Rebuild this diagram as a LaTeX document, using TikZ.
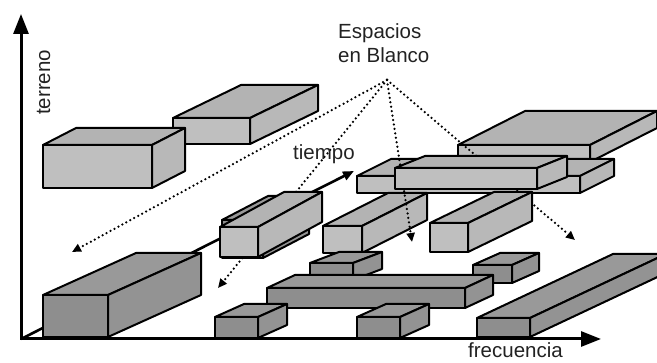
\documentclass[tikz,border=0pt]{standalone}
\usepackage{fontspec}
\setmainfont{Liberation Sans}
\usetikzlibrary{arrows.meta}

\definecolor{lightfront}{HTML}{BFBFBF}
\definecolor{lighttop}{HTML}{B3B3B3}
\definecolor{lightside}{HTML}{B8B8B8}
\definecolor{darkfront}{HTML}{8E8E8E}
\definecolor{darktop}{HTML}{999999}
\definecolor{darkside}{HTML}{939393}
\definecolor{inkgray}{HTML}{222222}

\tikzset{
  boxedge/.style={draw=black, line width=2pt, line join=round},
  axisline/.style={line width=3pt, line cap=rect, -{Triangle[length=20pt,width=15pt]}},
  timeline/.style={line width=2.6pt, -{Triangle[length=11pt,width=9pt]}},
  gapline/.style={line width=2.5pt, line cap=round, dash pattern=on 0pt off 4.5pt, -{Triangle[length=9pt,width=8pt]}},
  lbl/.style={font=\fontsize{20.5}{24}\selectfont, text=inkgray, inner sep=0pt}
}

% one block: tone, front face corners, depth offset
\newcommand{\cuboid}[7]{%
  \filldraw[boxedge, fill=#1front] (#2,#3) rectangle (#4,#5);
  \filldraw[boxedge, fill=#1top] (#2,#3) -- ++(#6,#7) -- ++({#4-#2},0) -- (#4,#3) -- cycle;
  \filldraw[boxedge, fill=#1side] (#4,#3) -- ++(#6,#7) -- ++(0,{#5-#3}) -- (#4,#5) -- cycle;
}

\begin{document}
\begin{tikzpicture}[x=1pt, y=-1pt]
  \useasboundingbox (0,0) rectangle (657,363);

  % Axis points
  \coordinate (orig) at (21,339);
  \coordinate (yend) at (21,14);
  \coordinate (xend) at (601,339);
  \coordinate (tend) at (354,171);

  % Time axis runs under the blocks
  \draw[timeline] (orig) -- (tend);

  % Blocks behind the pointers
  \foreach \tone/\xa/\ya/\xb/\yb/\dx/\dy in {
    light/458/145/590/162/67/-34,
    light/173/118/250/144/68/-33,
    light/43/145/152/188/33/-17,
    light/357/176/580/193/34/-17,
    light/323/226/362/253/65/-33
  }{
    \cuboid{\tone}{\xa}{\ya}{\xb}{\yb}{\dx}{\dy}
  }

  % Pointers to the blank spaces
  \coordinate (spc) at (387,80);
  \coordinate (gap1) at (72,252);
  \coordinate (gap2) at (218,288);
  \coordinate (gap3) at (412,242);
  \coordinate (gap4) at (575,240);
  \foreach \g in {1,...,4}
    \draw[gapline] (spc) -- (gap\g);

  % Blocks in front
  \foreach \tone/\xa/\ya/\xb/\yb/\dx/\dy in {
    light/395/168/537/189/30/-12,
    dark/222/220/263/258/46/-24,
    light/220/227/258/257/64/-35,
    light/430/223/468/252/64/-31,
    dark/310/263/353/280/29/-11,
    dark/473/265/512/283/27/-12,
    dark/267/288/465/308/28/-13,
    dark/477/318/530/337/136/-64,
    dark/43/295/108/337/93/-42,
    dark/215/317/258/338/29/-13,
    dark/357/317/400/338/29/-13
  }{
    \cuboid{\tone}{\xa}{\ya}{\xb}{\yb}{\dx}{\dy}
  }

  % Main axes
  \draw[axisline] (orig) -- (yend);
  \draw[axisline] (orig) -- (xend);

  % Labels
  \node[lbl, rotate=90, anchor=base west] (terreno) at (50,115) {terreno};
  \node[lbl, anchor=base west] (frec) at (468,358) {frecuencia};
  \node[lbl, anchor=base west] (tiempo) at (293,160) {tiempo};
  \node[lbl, align=left, anchor=base west] (espacios) at (338,63) {Espacios\\en Blanco};
\end{tikzpicture}
\end{document}
